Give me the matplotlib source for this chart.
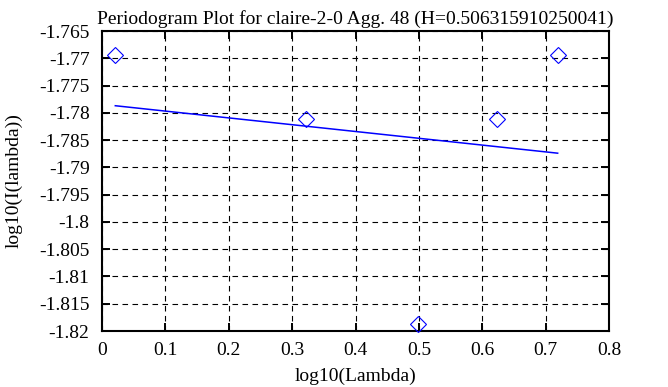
import matplotlib
matplotlib.use("Agg")
import matplotlib.pyplot as plt

# data
log_lambda = [0.021, 0.322, 0.498, 0.623, 0.719]
log_I = [-1.7694, -1.7811, -1.8187, -1.7811, -1.7694]

# fitted regression line (end points)
fit_x = [0.021, 0.719]
fit_y = [-1.7787, -1.7874]

x_ticks = [0, 0.1, 0.2, 0.3, 0.4, 0.5, 0.6, 0.7, 0.8]
y_ticks = [-1.765, -1.77, -1.775, -1.78, -1.785, -1.79, -1.795,
           -1.8, -1.805, -1.81, -1.815, -1.82]

plt.rcParams["font.family"] = ["Liberation Serif", "DejaVu Serif"]
plt.rcParams["font.size"] = 14

fig = plt.figure(figsize=(6.68, 3.87), dpi=100)
ax = fig.add_axes([102 / 668, 1 - 331 / 387, 507 / 668, 300 / 387])

ax.plot(log_lambda, log_I, linestyle="none", marker="D", markersize=8,
        markerfacecolor="none", markeredgecolor="blue", markeredgewidth=0.8,
        clip_on=False, zorder=3)
ax.plot(fit_x, fit_y, color="blue", linewidth=1.1, zorder=3)

ax.set_xlim(0, 0.8)
ax.set_ylim(-1.82, -1.765)
ax.set_xticks(x_ticks)
ax.set_xticklabels([f"{v:g}" for v in x_ticks])
ax.set_yticks(y_ticks)
ax.set_yticklabels([f"{v:g}" for v in y_ticks])

ax.grid(True, color="black", linestyle=(0, (5, 4)), linewidth=0.8)
ax.tick_params(axis="x", direction="in", length=6, width=1.4, top=True,
               pad=8, colors="black")
ax.tick_params(axis="y", direction="in", length=6, width=1.4, right=True,
               pad=9, colors="black")
for s in ax.spines.values():
    s.set_linewidth(1.5)

ax.set_title("Periodogram Plot for claire-2-0 Agg. 48 (H=0.506315910250041)",
             fontsize=14, pad=5)
ax.set_xlabel("log10(Lambda)", labelpad=6)
ax.set_ylabel("log10(I(lambda))", labelpad=12)

fig.savefig("out.png", dpi=100)
